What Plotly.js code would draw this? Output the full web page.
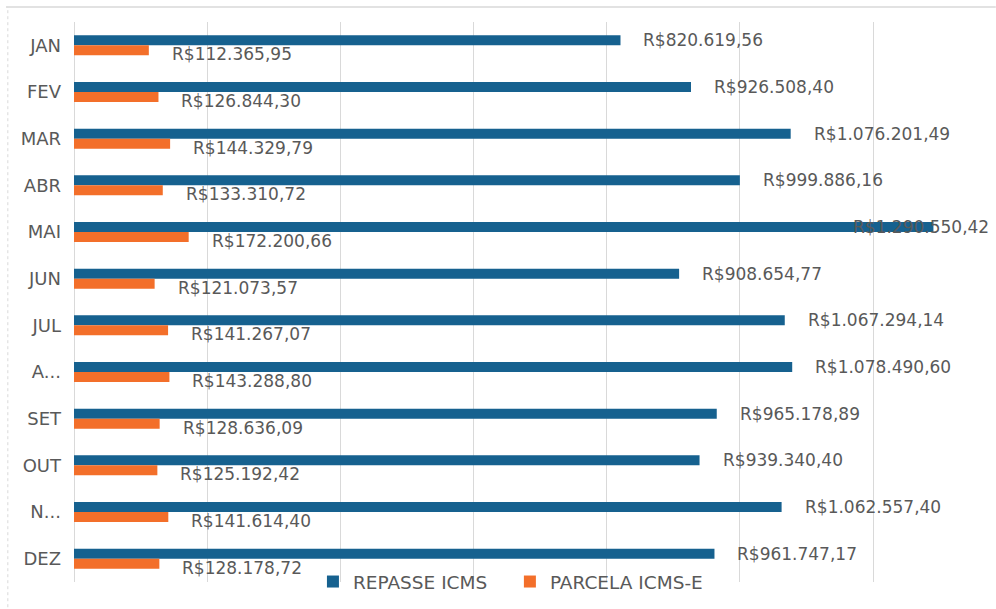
<!DOCTYPE html>
<html>
<head>
<meta charset="utf-8">
<script src="https://cdn.plot.ly/plotly-3.0.1.min.js"></script>
<style>html,body{margin:0;padding:0;background:#fff;}#chart{width:996px;height:609px;}</style>
</head>
<body>
<div id="chart"></div>
<script>
const months = ["JAN","FEV","MAR","ABR","MAI","JUN","JUL","AGO","SET","OUT","NOV","DEZ"];
const monthLabels = ["JAN","FEV","MAR","ABR","MAI","JUN","JUL","A...","SET","OUT","N...","DEZ"];
const repasseICMS = [820619.56, 926508.40, 1076201.49, 999886.16, 1290550.42, 908654.77, 1067294.14, 1078490.60, 965178.89, 939340.40, 1062557.40, 961747.17];
const parcelaICMSE = [112365.95, 126844.30, 144329.79, 133310.72, 172200.66, 121073.57, 141267.07, 143288.80, 128636.09, 125192.42, 141614.40, 128178.72];
const seriesNames = ["REPASSE ICMS", "PARCELA ICMS-E"];

const xMax = 1380000;
const blue = "#16618f";
const orange = "#f36f2a";
const grey = "#595959";
const fam = "DejaVu Sans, sans-serif";
const labelFont = {family: fam, size: 17, color: grey};

function brl(v) {
  const parts = v.toFixed(2).split(".");
  const intPart = parts[0].replace(/\B(?=(\d{3})+(?!\d))/g, ".");
  return "R$" + intPart + "," + parts[1];
}

const traces = [
  {type: "bar", orientation: "h", name: seriesNames[0] + "\u00a0\u00a0\u00a0", y: months, x: repasseICMS,
   marker: {color: blue}, hoverinfo: "skip"},
  {type: "bar", orientation: "h", name: seriesNames[1], y: months, x: parcelaICMSE,
   marker: {color: orange}, hoverinfo: "skip"}
];

const annotations = [];
months.forEach((m, i) => {
  const v = repasseICMS[i];
  const tooLong = v > 1200000;
  annotations.push({
    x: tooLong ? xMax : v, y: m, xref: "x", yref: "y",
    text: brl(v), showarrow: false,
    xanchor: tooLong ? "right" : "left", xshift: tooLong ? -2 : 21, yshift: 5,
    font: labelFont
  });
  annotations.push({
    x: parcelaICMSE[i], y: m, xref: "x", yref: "y",
    text: brl(parcelaICMSE[i]), showarrow: false,
    xanchor: "left", xshift: 21, yshift: -9,
    font: labelFont
  });
});

const layout = {
  width: 996, height: 609,
  margin: {l: 74, r: 3, t: 22, b: 27},
  paper_bgcolor: "#fff", plot_bgcolor: "#fff",
  barmode: "group", bargap: 0.57, bargroupgap: 0,
  xaxis: {range: [0, xMax], dtick: 200000, showticklabels: false, showgrid: true,
          gridcolor: "#d9d9d9", gridwidth: 1, zeroline: true, zerolinecolor: "#d9d9d9",
          zerolinewidth: 1, showline: false, fixedrange: true},
  yaxis: {type: "category", autorange: "reversed", tickmode: "array", tickvals: months,
          ticktext: monthLabels, tickfont: {family: fam, size: 18, color: grey},
          ticks: "", ticklabelstandoff: 12, showgrid: false, zeroline: false, showline: false},
  legend: {orientation: "h", x: 0.26, xanchor: "left", y: 0.0, yanchor: "middle",
           font: {family: fam, size: 18.5, color: grey}, itemwidth: 30,
           bgcolor: "rgba(0,0,0,0)", itemclick: false, traceorder: "normal"},
  showlegend: true,
  annotations: annotations,
  shapes: [
    {type: "line", xref: "paper", yref: "paper", x0: -0.074, x1: 1.003, y0: 1.027, y1: 1.027,
     line: {color: "#d9d9d9", width: 1.5}},
    {type: "line", xref: "paper", yref: "paper", x0: -0.072, x1: -0.072, y0: -0.045, y1: 1.027,
     line: {color: "#d9d9d9", width: 1, dash: "dot"}}
  ]
};

Plotly.newPlot("chart", traces, layout, {displayModeBar: false, staticPlot: true});
</script>
</body>
</html>
